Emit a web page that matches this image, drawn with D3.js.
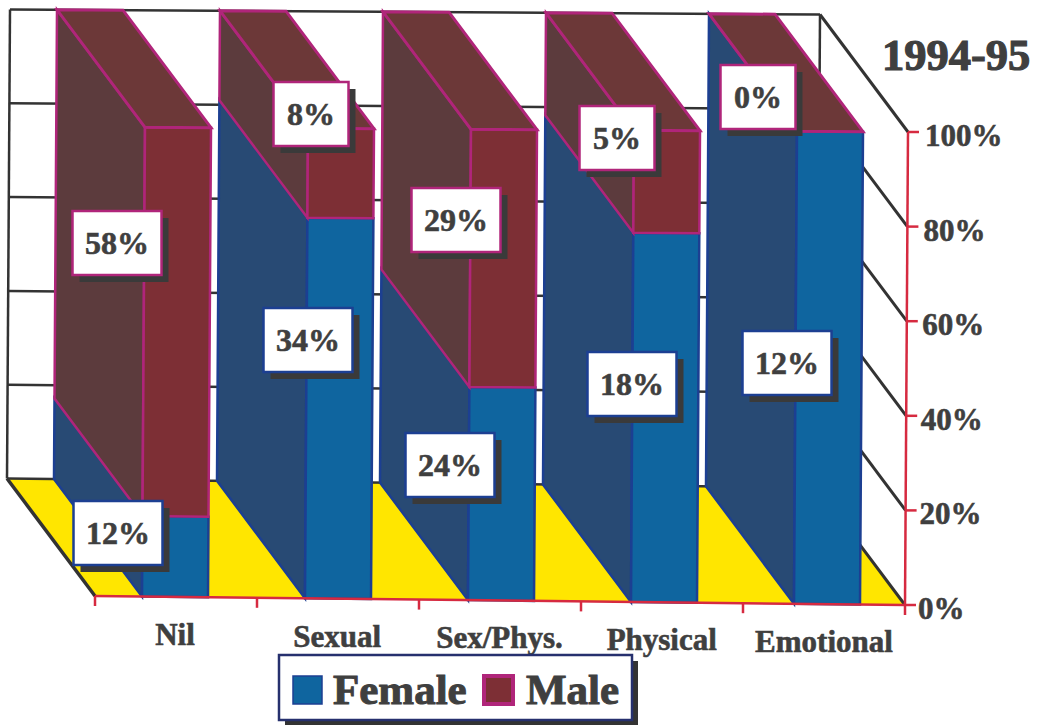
<!DOCTYPE html>
<html><head><meta charset="utf-8">
<script src="https://cdn.jsdelivr.net/npm/d3@7/dist/d3.min.js"></script>
<style>html,body{margin:0;padding:0;background:#fff}svg{display:block}text{font-family:"Liberation Serif",serif;font-weight:bold;fill:#3f3f3f;stroke:#3f3f3f;stroke-width:.6px}</style>
</head><body><svg id="c" width="1037" height="726"></svg>
<script>
const categories=["Nil","Sexual","Sex/Phys.","Physical","Emotional"];
const female=[12,34,24,18,12];
const male=[58,8,29,5,0];
const yTicks=[0,20,40,60,80,100];
const seriesNames=["Female","Male"];
const title="1994-95";
// layout constants (label box centres, hand placed as in the source)
const femaleBoxC=[[118,533],[308,340],[450,465],[632,384],[787,363]];
const maleBoxC=[[117,243],[311,114],[456,220],[617,138],[758,97]];
const DX=88,DY=117.5;
const colors={frontF:"#0f659f",sideF:"#284a74",frontM:"#7d2f35",sideM:"#5c3b3d",topM:"#6c3838",edgeF:"#1c3f92",edgeM:"#b0257a",grid:"#333",axis:"#d62a40",floor:"#ffe600"};
const table=categories.map((c,i)=>({c,Female:female[i],Male:male[i]}));
const stack=d3.stack().keys(seriesNames).offset(d3.stackOffsetExpand)(table);
const svg=d3.select("#c");
const xAxisScale=d3.scaleBand().domain(categories).range([95,905]);
const barX=d3.scalePoint().domain(categories).range([142,794]);
const barW=66;
const labelX=d3.scalePoint().domain(categories).range([175,824]);
const y=d3.scaleLinear().domain([0,100]).range([0,1]);
// oblique projection with the slight page tilt of the scan
function p(x,v,d){
  const t=(x-95)/810, h=469+4*t, f=y(v);
  return [x+3*f-DX*d, 596+9*t-h*f-DY*d];
}
const poly=pts=>pts.map(a=>a.map(n=>n.toFixed(1)).join(",")).join(" ");
// floor
svg.append("polygon").attr("points",poly([p(95,0,0),p(95,0,1),p(905,0,1),p(905,0,0)])).attr("fill",colors.floor);
// back wall grid
svg.selectAll(".grid").data(yTicks).join("line").attr("class","grid")
 .attr("x1",v=>p(95,v,1)[0]).attr("y1",v=>p(95,v,1)[1])
 .attr("x2",v=>p(905,v,1)[0]).attr("y2",v=>p(905,v,1)[1])
 .attr("stroke",colors.grid).attr("stroke-width",2.5);
// wall verticals
[95,905].forEach(x=>svg.append("line").attr("x1",p(x,0,1)[0]).attr("y1",p(x,0,1)[1]).attr("x2",p(x,100,1)[0]).attr("y2",p(x,100,1)[1]).attr("stroke",colors.grid).attr("stroke-width",2.5));
// left floor edge
svg.append("line").attr("x1",p(95,0,1)[0]).attr("y1",p(95,0,1)[1]).attr("x2",p(95,0,0)[0]).attr("y2",p(95,0,0)[1]).attr("stroke",colors.grid).attr("stroke-width",3.5);
// right wall diagonals
svg.selectAll(".rw").data(yTicks).join("line").attr("class","rw")
 .attr("x1",v=>p(905,v,1)[0]).attr("y1",v=>p(905,v,1)[1])
 .attr("x2",v=>p(905,v,0)[0]).attr("y2",v=>p(905,v,0)[1])
 .attr("stroke",colors.grid).attr("stroke-width",3);
// bars
categories.forEach((c,i)=>{
  const x0=barX(c),x1=x0+barW;
  stack.forEach((s,k)=>{
    const a=s[i][0]*100,b=s[i][1]*100;
    const edge=k?colors.edgeM:colors.edgeF;
    svg.append("polygon").attr("points",poly([p(x0,a,0),p(x0,a,1),p(x0,b,1),p(x0,b,0)]))
      .attr("fill",k?colors.sideM:colors.sideF).attr("stroke",edge).attr("stroke-width",2.5);
    svg.append("polygon").attr("points",poly([p(x0,a,0),p(x1,a,0),p(x1,b,0),p(x0,b,0)]))
      .attr("fill",k?colors.frontM:colors.frontF).attr("stroke",edge).attr("stroke-width",2.5);
  });
  svg.append("polygon").attr("points",poly([p(x0,100,0),p(x1,100,0),p(x1,100,1),p(x0,100,1)]))
    .attr("fill",colors.topM).attr("stroke",colors.edgeM).attr("stroke-width",3);
});
// axes
svg.append("line").attr("x1",p(95,0,0)[0]).attr("y1",p(95,0,0)[1]).attr("x2",p(905,0,0)[0]).attr("y2",p(905,0,0)[1]).attr("stroke",colors.axis).attr("stroke-width",2.5);
svg.append("line").attr("x1",p(905,0,0)[0]).attr("y1",p(905,0,0)[1]).attr("x2",p(905,100,0)[0]).attr("y2",p(905,100,0)[1]).attr("stroke",colors.axis).attr("stroke-width",2.5);
const xt=categories.map(c=>xAxisScale(c)).concat([905]);
svg.selectAll(".xt").data(xt).join("line").attr("class","xt")
 .attr("x1",d=>d).attr("x2",d=>d).attr("y1",d=>p(d,0,0)[1]).attr("y2",d=>p(d,0,0)[1]+10)
 .attr("stroke",colors.axis).attr("stroke-width",2.5);
svg.selectAll(".yt").data(yTicks).join("line").attr("class","yt")
 .attr("x1",v=>p(905,v,0)[0]).attr("x2",v=>p(905,v,0)[0]+11)
 .attr("y1",v=>p(905,v,0)[1]).attr("y2",v=>p(905,v,0)[1])
 .attr("stroke",colors.axis).attr("stroke-width",2.5);
svg.selectAll(".yl").data(yTicks).join("text").attr("class","yl")
 .attr("x",v=>918+v*0.07).attr("y",v=>p(905,v,0)[1]+14).attr("font-size",31).text(v=>v+"%");
svg.selectAll(".xl").data(categories).join("text").attr("class","xl")
 .attr("x",c=>labelX(c)).attr("y",c=>p(labelX(c),0,0)[1]+48).attr("text-anchor","middle").attr("font-size",31).text(c=>c);
svg.append("text").attr("x",882).attr("y",70).attr("font-size",44.5).style("stroke-width","1.2px").text(title);
// data labels
function box(cx,cy,txt,edge){
  const w=txt.length<3?75:89,h=64;
  svg.append("rect").attr("x",cx-w/2+7).attr("y",cy-h/2+7).attr("width",w).attr("height",h).attr("fill","#3a3a3a");
  svg.append("rect").attr("x",cx-w/2).attr("y",cy-h/2).attr("width",w).attr("height",h).attr("fill","#fff").attr("stroke",edge).attr("stroke-width",2.5);
  svg.append("text").attr("x",cx).attr("y",cy+11).attr("text-anchor","middle").attr("font-size",32).text(txt);
}
categories.forEach((c,i)=>{
  box(femaleBoxC[i][0],femaleBoxC[i][1],female[i]+"%",colors.edgeF);
  box(maleBoxC[i][0],maleBoxC[i][1],male[i]+"%",colors.edgeM);
});
// legend
svg.append("rect").attr("x",285).attr("y",661).attr("width",353).attr("height",64).attr("fill","#333");
svg.append("rect").attr("x",279).attr("y",655).attr("width",353).attr("height",65).attr("fill","#fff").attr("stroke","#26306e").attr("stroke-width",2.5);
const legX=d3.scaleOrdinal().domain(seriesNames).range([293,484]);
const legText=d3.scaleOrdinal().domain(seriesNames).range([333,526]);
const legC=d3.scaleOrdinal().domain(seriesNames).range([colors.frontF,colors.frontM]);
seriesNames.forEach(n=>{
  svg.append("rect").attr("x",legX(n)).attr("y",676).attr("width",29).attr("height",28).attr("fill",legC(n)).attr("stroke",n==="Male"?colors.edgeM:colors.edgeF).attr("stroke-width",n==="Male"?4:1.5);
  svg.append("text").attr("x",legText(n)).attr("y",704).attr("font-size",43).style("stroke-width","1px").text(n);
});
</script></body></html>
